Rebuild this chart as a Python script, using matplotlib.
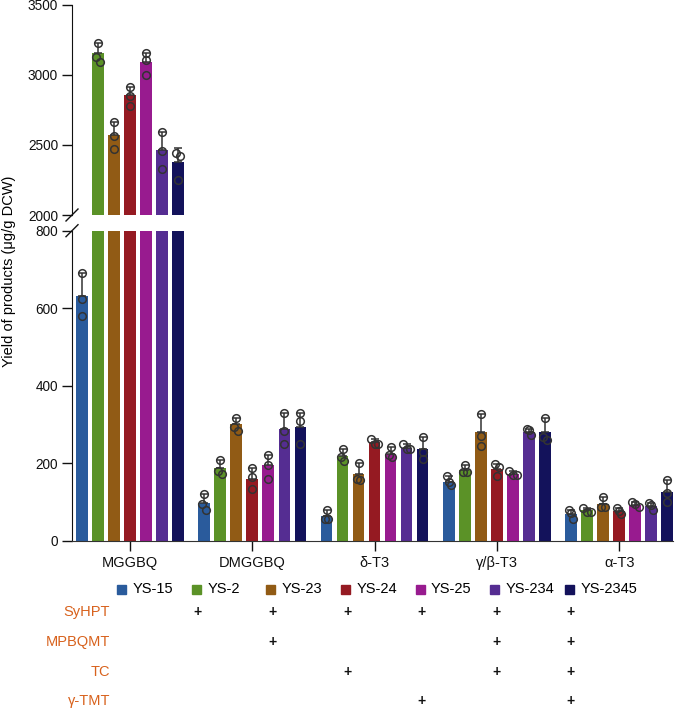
import numpy as np
import matplotlib
matplotlib.use("Agg")
import matplotlib.pyplot as plt
from matplotlib.patches import Rectangle

plt.rcParams['font.family'] = ['Liberation Sans', 'DejaVu Sans']

categories = ['MGGBQ', 'DMGGBQ', 'δ-T3', 'γ/β-T3', 'α-T3']
strains = ['YS-15', 'YS-2', 'YS-23', 'YS-24', 'YS-25', 'YS-234', 'YS-2345']
colors = ['#2A5B9C', '#5B9227', '#915B15', '#951A22', '#981B8F', '#552D92', '#13125B']

# bar heights (means) per strain, per category
mean_ys15 = [631, 99, 65, 152, 69]
mean_ys2 = [3159, 187, 219, 184, 79]
mean_ys23 = [2571, 301, 172, 281, 96]
mean_ys24 = [2857, 161, 254, 185, 77]
mean_ys25 = [3095, 195, 225, 174, 94]
mean_ys234 = [2464, 290, 241, 281, 90]
mean_ys2345 = [2376, 294, 237, 281, 126]

# standard deviations (upper error bars)
sd_ys15 = [59, 21, 14, 15, 10]
sd_ys2 = [67, 21, 17, 13, 5]
sd_ys23 = [96, 17, 30, 46, 18]
sd_ys24 = [55, 26, 8, 13, 9]
sd_ys25 = [64, 28, 18, 7, 7]
sd_ys234 = [129, 41, 9, 9, 8]
sd_ys2345 = [105, 35, 30, 36, 31]

# replicate measurements
pts_ys15 = [[690, 623, 580], [120, 95, 79], [79, 58, 58], [167, 152, 144], [79, 71, 58]]
pts_ys2 = [[3226, 3131, 3095], [208, 181, 172], [236, 217, 206], [197, 178, 178], [84, 75, 75]]
pts_ys23 = [[2667, 2567, 2469], [318, 293, 284], [202, 161, 158], [327, 271, 245], [114, 88, 87]]
pts_ys24 = [[2912, 2850, 2779], [187, 165, 133], [262, 250, 250], [198, 191, 167], [86, 77, 69]]
pts_ys25 = [[3159, 3107, 2998], [223, 195, 159], [243, 221, 217], [181, 169, 169], [101, 95, 88]]
pts_ys234 = [[2593, 2459, 2331], [331, 284, 251], [250, 238, 236], [290, 286, 272], [98, 92, 79]]
pts_ys2345 = [[2445, 2421, 2250], [329, 310, 250], [267, 230, 211], [317, 267, 260], [157, 124, 101]]

# genes introduced (table below the chart), per strain
row_labels = ['SyHPT', 'MPBQMT', 'TC', 'γ-TMT']
genes_ys15 = [0, 0, 0, 0]
genes_ys2 = [1, 0, 0, 0]
genes_ys23 = [1, 1, 0, 0]
genes_ys24 = [1, 0, 1, 0]
genes_ys25 = [1, 0, 0, 1]
genes_ys234 = [1, 1, 1, 0]
genes_ys2345 = [1, 1, 1, 1]

means = [mean_ys15, mean_ys2, mean_ys23, mean_ys24, mean_ys25, mean_ys234, mean_ys2345]
sds = [sd_ys15, sd_ys2, sd_ys23, sd_ys24, sd_ys25, sd_ys234, sd_ys2345]
pts = [pts_ys15, pts_ys2, pts_ys23, pts_ys24, pts_ys25, pts_ys234, pts_ys2345]
genes = [genes_ys15, genes_ys2, genes_ys23, genes_ys24, genes_ys25, genes_ys234, genes_ys2345]

W, H = 678, 709
fig = plt.figure(figsize=(W / 100, H / 100), dpi=100)

left, right = 72, 673
ax_top = fig.add_axes([left / W, 1 - 215 / H, (right - left) / W, 210 / H])
ax_bot = fig.add_axes([left / W, 1 - 541 / H, (right - left) / W, 310.3 / H])

xg = np.arange(len(categories))
step = 0.131
bw = 0.095
xlim = (-0.474, 4.44)
ink = '#333333'

for ax, (y0, y1) in ((ax_top, (2000, 3500)), (ax_bot, (0, 800))):
    ax.set_xlim(*xlim)
    ax.set_ylim(y0, y1)
    ax_h_px = ax.get_position().height * H
    ppu = ax_h_px / (y1 - y0)
    thr = 6.5 / ppu
    for i in range(len(strains)):
        xs = xg + (i - 3) * step
        ax.bar(xs, means[i], width=bw, color=colors[i], edgecolor='none', zorder=2)
        ax.errorbar(xs, means[i], yerr=[np.zeros(len(xs)), sds[i]], fmt='none',
                    ecolor=ink, elinewidth=1.1, capsize=3, capthick=1.1, zorder=3)
        for j in range(len(categories)):
            vals = np.array(pts[i][j], dtype=float)
            offs = np.zeros(len(vals))
            for a in range(len(vals)):
                close = [b for b in range(len(vals)) if abs(vals[b] - vals[a]) < thr]
                if len(close) > 1:
                    k = close.index(a)
                    offs[a] = (k - (len(close) - 1) / 2) * 0.03
            ax.plot(xs[j] + offs, vals, 'o', ms=5.5, mfc='none', mec=ink, mew=1.1,
                    zorder=4, clip_on=True)
    ax.spines['top'].set_visible(False)
    ax.spines['right'].set_visible(False)
    ax.spines['left'].set_color('#111111')
    ax.tick_params(axis='y', direction='out', length=7, width=1, pad=3, labelsize=9.8, colors='#111111')

ax_top.set_yticks([2000, 2500, 3000, 3500])
ax_top.spines['bottom'].set_visible(False)
ax_top.set_xticks([])

ax_bot.set_yticks([0, 200, 400, 600, 800])
ax_bot.set_xticks(xg)
ax_bot.set_xticklabels(categories, fontsize=10.5)
ax_bot.tick_params(axis='x', direction='out', length=7, width=1, pad=4, colors='#111111')
ax_bot.spines['bottom'].set_color('#333333')

# break marks
d = 6
for ax, yv in ((ax_top, 0.0), (ax_bot, 1.0)):
    tr = ax.transAxes
    x0, y0 = tr.transform((0, yv))
    inv = fig.transFigure.inverted()
    p1 = inv.transform((x0 - d, y0 - d))
    p2 = inv.transform((x0 + d, y0 + d))
    fig.add_artist(plt.Line2D([p1[0], p2[0]], [p1[1], p2[1]], color='#111111', lw=1))

fig.text(9 / W, 1 - 271 / H, 'Yield of products (μg/g DCW)', rotation=90,
         ha='center', va='center', fontsize=10.5)

# legend row + gene table in pixel coordinates
ov = fig.add_axes([0, 0, 1, 1])
ov.set_xlim(0, W)
ov.set_ylim(H, 0)
ov.axis('off')
ov.patch.set_visible(False)

lx0, ldx, ly = 121.7, 74.6, 589
for i, s in enumerate(strains):
    cx = lx0 + i * ldx
    ov.add_patch(Rectangle((cx - 4.5, ly - 4.5), 9, 9, color=colors[i]))
    ov.text(cx + 11, ly, s, ha='left', va='center', fontsize=10.5)

row_y = [612, 642, 672, 701]
orange = '#D8621D'
for r, lab in enumerate(row_labels):
    ov.text(110, row_y[r], lab, ha='right', va='center', fontsize=10.5, color=orange)
    for i in range(len(strains)):
        if genes[i][r]:
            ov.text(lx0 + i * ldx + 1.5, row_y[r], '+', ha='center', va='center',
                    fontsize=10, fontweight='bold', color='#111111')

fig.savefig('out.png', dpi=100)
